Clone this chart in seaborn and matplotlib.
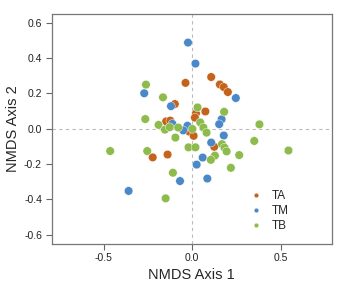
import matplotlib
matplotlib.use("Agg")
import matplotlib.pyplot as plt
import seaborn as sns
import pandas as pd

groups = ["TA", "TM", "TB"]
colors = ["#C5631C", "#4A88C7", "#8DBB4C"]

ta_x = [-0.038, 0.107, 0.156, 0.178, 0.201, 0.021, 0.015, 0.074, -0.098, -0.147, -0.124, -0.017, 0.008, 0.124, -0.223, -0.139]
ta_y = [0.259, 0.292, 0.250, 0.235, 0.207, 0.086, 0.062, 0.097, 0.139, 0.041, 0.045, -0.017, -0.041, -0.103, -0.163, -0.147]

tm_x = [-0.024, 0.018, 0.246, -0.271, -0.120, -0.112, -0.027, -0.051, 0.166, 0.152, 0.178, 0.107, 0.059, 0.025, 0.085, -0.069, -0.359]
tm_y = [0.487, 0.368, 0.173, 0.200, 0.127, 0.027, 0.016, -0.010, 0.053, 0.025, -0.039, -0.079, -0.164, -0.204, -0.283, -0.297, -0.353]

tb_x = [-0.261, -0.165, -0.265, -0.190, -0.154, -0.127, -0.079, 0.001, -0.095, -0.021, 0.018, -0.463, -0.254, -0.109, -0.150,
        0.030, 0.180, 0.045, 0.063, 0.081, 0.379, 0.350, 0.168, 0.182, 0.194, 0.543, 0.265, 0.128, 0.105, 0.218]
tb_y = [0.249, 0.177, 0.054, 0.021, -0.006, 0.008, 0.006, -0.002, -0.051, -0.106, -0.106, -0.127, -0.127, -0.250, -0.395,
        0.120, 0.095, 0.035, 0.006, -0.023, 0.024, -0.070, -0.088, -0.108, -0.129, -0.124, -0.150, -0.153, -0.177, -0.222]

x_ticks = [-0.5, 0.0, 0.5]
y_ticks = [-0.6, -0.4, -0.2, 0.0, 0.2, 0.4, 0.6]

df = pd.DataFrame({
    "x": ta_x + tm_x + tb_x,
    "y": ta_y + tm_y + tb_y,
    "group": ["TA"] * len(ta_x) + ["TM"] * len(tm_x) + ["TB"] * len(tb_x),
})

sns.set_style("white")
plt.rcParams["font.family"] = ["Liberation Sans", "DejaVu Sans"]

fig = plt.figure(figsize=(3.39, 2.94), dpi=100)
ax = fig.add_axes([0.1525, 0.171, 0.8265, 0.782])

ax.axhline(0, color="#BBBBBB", lw=0.8, ls=(0, (3, 3)), zorder=0)
ax.axvline(0, color="#BBBBBB", lw=0.8, ls=(0, (3, 3)), zorder=0)

sns.scatterplot(data=df, x="x", y="y", hue="group", hue_order=groups,
                palette=dict(zip(groups, colors)), s=38, edgecolor="white",
                linewidth=0.3, alpha=1, ax=ax, legend=True)

ax.set_xlim(-0.793, 0.788)
ax.set_ylim(-0.652, 0.65)
ax.set_xticks(x_ticks)
ax.set_xticklabels(["-0.5", "0.0", "0.5"])
ax.set_yticks(y_ticks)
ax.set_yticklabels(["-0.6", "-0.4", "-0.2", "0.0", "0.2", "0.4", "0.6"])
ax.tick_params(axis="both", direction="out", length=4, width=0.8, color="#666666",
               labelsize=7.5, labelcolor="#222222", pad=3, left=True, bottom=True)
for sp in ax.spines.values():
    sp.set_color("#777777")
    sp.set_linewidth(0.9)

ax.set_xlabel("NMDS Axis 1", fontsize=10.5, labelpad=3)
ax.set_ylabel("NMDS Axis 2", fontsize=10.5, labelpad=3)

handles, labels = ax.get_legend_handles_labels()
leg = ax.legend(handles, labels, loc="lower right", bbox_to_anchor=(0.875, 0.015),
                frameon=False, fontsize=8.5, markerscale=0.55, handletextpad=0.3,
                labelspacing=0.25, borderpad=0.2)

fig.savefig("out.png", dpi=100)
